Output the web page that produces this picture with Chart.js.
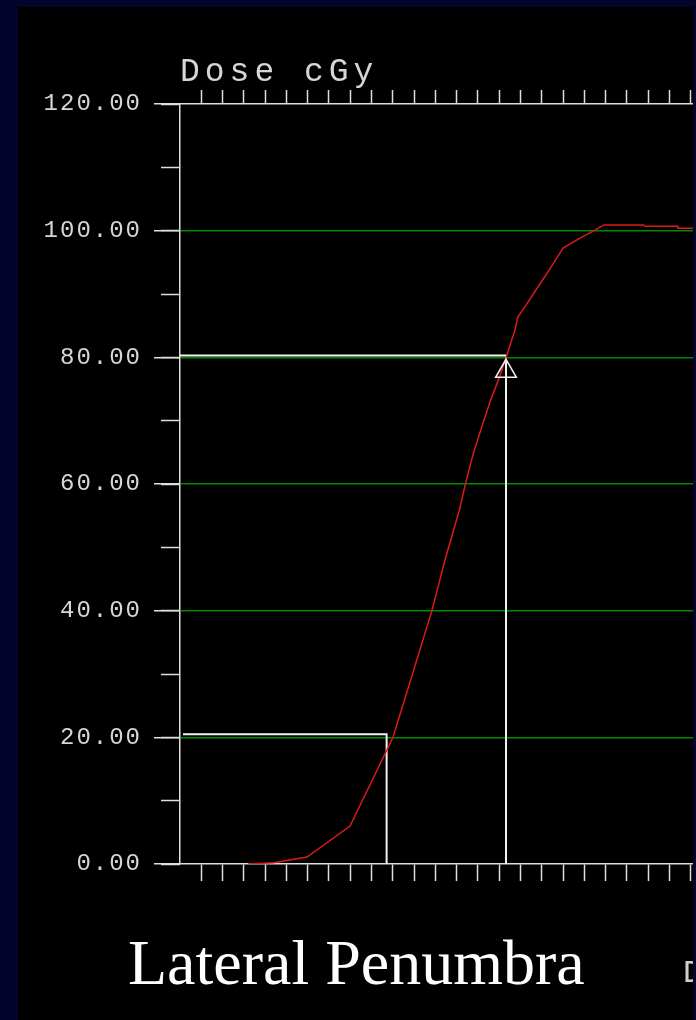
<!DOCTYPE html>
<html>
<head>
<meta charset="utf-8">
<title>Lateral Penumbra</title>
<script src="https://cdn.jsdelivr.net/npm/chart.js@4.4.1/dist/chart.umd.min.js"></script>
<style>
  html, body {
    margin: 0;
    padding: 0;
    width: 696px;
    height: 1020px;
    overflow: hidden;
    background: #03032c;
  }
  #panel {
    position: absolute;
    left: 18px;
    top: 7px;
    width: 675px;
    height: 1013px;
    background: #000;
    overflow: hidden;
  }
  #myChart {
    position: absolute;
    left: 0;
    top: 0;
  }
  #caption {
    position: absolute;
    left: 110px;
    top: 924px;
    font-family: 'Liberation Serif', 'Times New Roman', serif;
    font-size: 64px;
    line-height: 1;
    color: #fff;
    white-space: nowrap;
  }
  #xTitle {
    position: absolute;
    left: 665px;
    top: 951px;
    font-family: 'Liberation Mono', monospace;
    font-size: 32px;
    line-height: 1;
    letter-spacing: 6px;
    color: #cfcfcf;
    white-space: nowrap;
  }
</style>
</head>
<body>
<div id="panel">
  <canvas id="myChart" width="675" height="1013"></canvas>
  <div id="caption">Lateral Penumbra</div>
  <div id="xTitle">Distance</div>
</div>

<script>
// Profile across the field edge
const distance = [3.2, 4.4, 5.97, 7.99, 10.01, 11.84, 12.45, 13.13, 13.39, 13.78, 14.18, 14.57,
    14.96, 15.31, 15.74, 15.88, 16.29, 16.68, 17.39, 18.01, 18.94, 19.35, 19.92, 21.8,
    21.85, 23.39, 23.4, 24.2];
const dose = [0, 0.2, 1.1, 6.0, 20.0, 40.0, 48.0, 55.9, 59.7, 64.8, 69.0, 73.0,
    76.4, 79.8, 84.3, 86.4, 88.4, 90.4, 94.0, 97.3, 99.1, 99.8, 100.9, 100.9,
    100.7, 100.7, 100.4, 100.4];

// 80% and 20% construction lines
const guide80X = [0, 15.32, 15.32];
const guide80Y = [80.3, 80.3, 0];
const guide20X = [0.14, 9.71, 9.71];
const guide20Y = [20.5, 20.5, 0];

// triangle marker at the 80% point
const markerX = [15.32];
const markerY = [77.8];

// axis limits / tick steps
const xMin = 0;
const xMax = 24.107;
const xStep = 1;
const yMin = 0;
const yMax = 120;
const yMajorStep = 20;
const yMinorStep = 10;
const gridValues = [20, 40, 60, 80, 100];

const axisColor = '#dedede';
const labelColor = '#d6d6d6';
const gridGreen = '#008a00';
const curveRed = '#dc1a1a';

function toPoints(xs, ys) {
    return xs.map((x, i) => ({ x: x, y: ys[i] }));
}

// Chart.js fonts have no letter spacing option, so set it on the context
const spacingPlugin = {
    id: 'spacing',
    afterInit(chart) {
        const tb = chart.titleBlock;
        if (!tb) return;
        const draw = tb.draw.bind(tb);
        tb.draw = function () {
            chart.ctx.save();
            chart.ctx.letterSpacing = '5px';
            draw();
            chart.ctx.restore();
        };
    },
    beforeDraw(chart) {
        chart.ctx.letterSpacing = '2px';
    }
};

const hideZero = (ctx) => (ctx.tick && ctx.tick.value === 0) ? 'rgba(0,0,0,0)' : axisColor;

const ctx = document.getElementById('myChart').getContext('2d');

const penumbraChart = new Chart(ctx, {
    type: 'line',
    data: {
        datasets: [
            {
                label: 'Dose',
                data: toPoints(distance, dose),
                borderColor: curveRed,
                borderWidth: 1.5,
                pointRadius: 0,
                tension: 0,
                fill: false,
                order: 1
            },
            {
                label: '80%',
                data: toPoints(guide80X, guide80Y),
                borderColor: '#f2f2f2',
                borderWidth: 2,
                pointRadius: 0,
                tension: 0,
                fill: false,
                order: 2
            },
            {
                label: '20%',
                data: toPoints(guide20X, guide20Y),
                borderColor: '#f2f2f2',
                borderWidth: 2,
                pointRadius: 0,
                tension: 0,
                fill: false,
                order: 2
            },
            {
                label: 'marker',
                data: toPoints(markerX, markerY),
                showLine: false,
                pointStyle: 'triangle',
                pointRadius: 12,
                pointBorderColor: '#f2f2f2',
                pointBackgroundColor: 'rgba(0,0,0,0)',
                pointBorderWidth: 1.5,
                order: 0
            }
        ]
    },
    options: {
        responsive: false,
        animation: false,
        events: [],
        layout: {
            autoPadding: false,
            padding: { top: 49, left: 0, right: 0, bottom: 139 }
        },
        scales: {
            x: {
                type: 'linear',
                position: 'bottom',
                min: xMin,
                max: xMax,
                ticks: { display: false, stepSize: xStep, includeBounds: false, autoSkip: false },
                grid: { drawOnChartArea: false, tickLength: 17, tickWidth: 1.5, tickColor: hideZero },
                border: { display: true, color: axisColor, width: 1.5 },
                afterFit(scale) { scale.height = 17; }
            },
            x2: {
                type: 'linear',
                position: 'top',
                min: xMin,
                max: xMax,
                ticks: { display: false, stepSize: xStep, includeBounds: false, autoSkip: false },
                grid: { drawOnChartArea: false, tickLength: 14, tickWidth: 1.5, tickColor: hideZero },
                border: { display: true, color: axisColor, width: 1.5 },
                afterFit(scale) { scale.height = 14; }
            },
            y: {
                type: 'linear',
                position: 'left',
                weight: 1,
                min: yMin,
                max: yMax,
                ticks: {
                    stepSize: yMajorStep,
                    autoSkip: false,
                    padding: 12,
                    color: labelColor,
                    font: { family: 'Liberation Mono', size: 24, weight: 'normal' },
                    callback: (v) => Number(v).toFixed(2)
                },
                grid: {
                    drawOnChartArea: true,
                    color: (c) => gridValues.includes(c.tick && c.tick.value) ? gridGreen : 'rgba(0,0,0,0)',
                    lineWidth: 1.5,
                    tickLength: 26,
                    tickWidth: 1.5,
                    tickColor: axisColor
                },
                border: { display: true, color: axisColor, width: 1.5 },
                afterFit(scale) { scale.width = 162; }
            },
            yMinor: {
                type: 'linear',
                position: 'left',
                weight: 0,
                min: yMin,
                max: yMax,
                ticks: { display: false, stepSize: yMinorStep, autoSkip: false },
                grid: { drawOnChartArea: false, tickLength: 19, tickWidth: 1.5, tickColor: axisColor },
                border: { display: false },
                afterFit(scale) { scale.width = 0; }
            }
        },
        plugins: {
            legend: { display: false },
            tooltip: { enabled: false },
            title: {
                display: true,
                text: 'Dose cGy',
                align: 'start',
                fullSize: false,
                color: labelColor,
                font: { family: 'Liberation Mono', size: 33, weight: 'normal', lineHeight: 1 },
                padding: { top: 0, bottom: 1 }
            }
        }
    },
    plugins: [spacingPlugin]
});
</script>
</body>
</html>
